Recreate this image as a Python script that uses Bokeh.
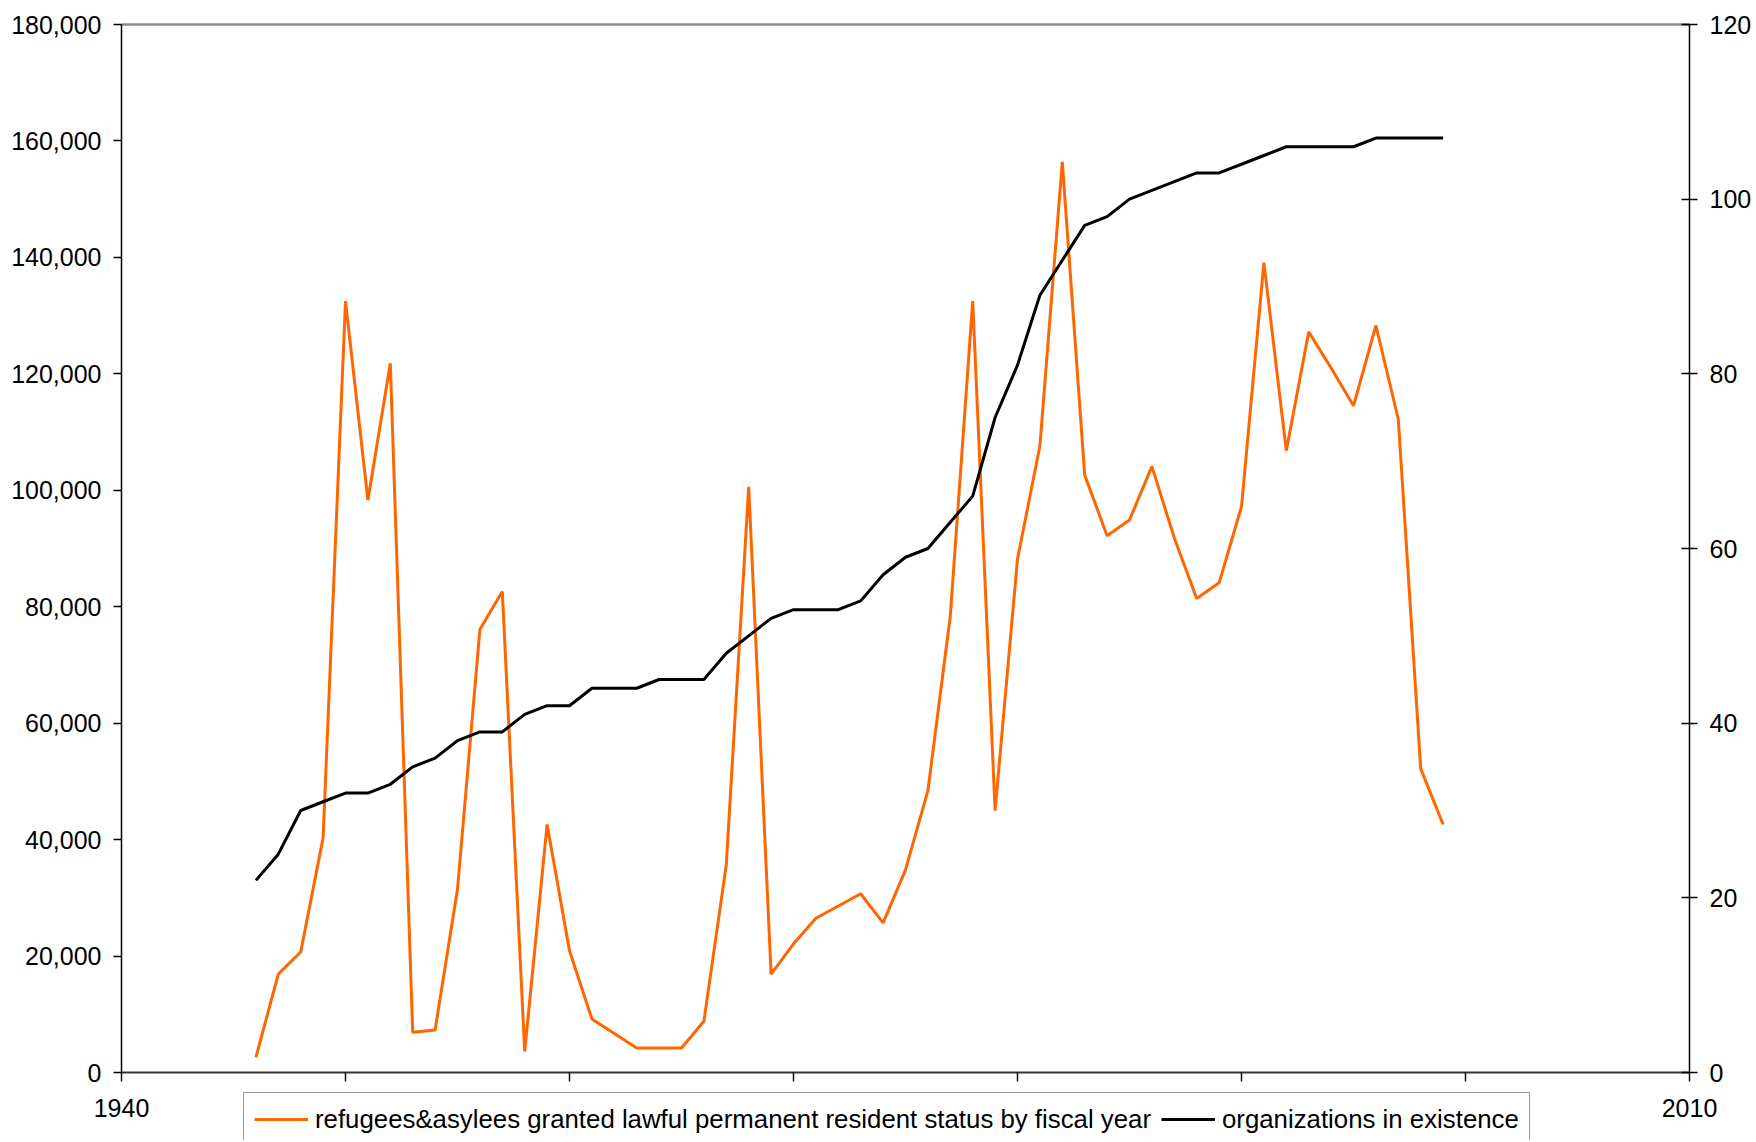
from bokeh.plotting import figure
from bokeh.models import (Range1d, LinearAxis, FixedTicker, NumeralTickFormatter,
                          Legend, LegendItem)
from bokeh.embed import file_html
from bokeh.resources import INLINE

years = list(range(1946, 2000))
refugees = [2600, 16900, 20700, 40300, 132500, 98300, 121800, 6900, 7300, 31500,
            76100, 82600, 3600, 42600, 20900, 9200, 6700, 4200, 4200, 4200,
            8800, 35700, 100600, 16900, 22100, 26500, 28600, 30700, 25700, 34800,
            48400, 78400, 132500, 45000, 88200, 107600, 156400, 102600, 92200, 94900,
            104100, 91800, 81400, 84100, 97200, 139100, 106800, 127200, 121000, 114500,
            128300, 112200, 52200, 42600]
organizations = [22, 25, 30, 31, 32, 32, 33, 35, 36, 38,
                 39, 39, 41, 42, 42, 44, 44, 44, 45, 45,
                 45, 48, 50, 52, 53, 53, 53, 54, 57, 59,
                 60, 63, 66, 75, 81, 89, 93, 97, 98, 100,
                 101, 102, 103, 103, 104, 105, 106, 106, 106, 106,
                 107, 107, 107, 107]
series_labels = ["refugees&asylees granted lawful permanent resident status by fiscal year",
                 "organizations in existence"]
x_ticks = [1940, 1950, 1960, 1970, 1980, 1990, 2000, 2010]
x_tick_labels = ["1940", "", "", "", "", "", "", "2010"]
left_ticks = [0, 20000, 40000, 60000, 80000, 100000, 120000, 140000, 160000, 180000]
right_ticks = [0, 20, 40, 60, 80, 100, 120]

FONT = "Liberation Sans"
TICK_SIZE = "25px"
LEG_SIZE = "25.8px"

# ---- layout (pixels). The frame covers the whole canvas; the axes are drawn
# at fixed data locations so that nothing is clipped.
W, H = 1754, 1140
PX_LEFT, PX_TOP = 121, 24          # top-left corner of the plotting box
PLOT_W, PLOT_H = 1568, 1048        # size of the plotting box
X0, X1 = 1940, 2010
LEFT_MAX, RIGHT_MAX = 180000, 120

def extend(lo, hi, px_lo, px_span, px_total):
    per_px = (hi - lo) / px_span
    return lo - px_lo * per_px, hi + (px_total - px_lo - px_span) * per_px

xr = extend(X0, X1, PX_LEFT, PLOT_W, W)
bottom_px = H - PX_TOP - PLOT_H
yr = extend(0, LEFT_MAX, bottom_px, PLOT_H, H)
yr2 = extend(0, RIGHT_MAX, bottom_px, PLOT_H, H)

p = figure(frame_width=W, frame_height=H,
           x_range=Range1d(*xr), y_range=Range1d(*yr),
           output_backend="svg", toolbar_location=None,
           min_border_left=0, min_border_right=0,
           min_border_top=0, min_border_bottom=0)
p.extra_y_ranges = {"orgs": Range1d(*yr2)}
p.xgrid.visible = False
p.ygrid.visible = False
p.outline_line_color = None
p.background_fill_color = "white"
p.border_fill_color = "white"

# bottom axis, drawn at the zero line
xa = p.xaxis[0]
xa.fixed_location = 0
xa.bounds = (X0, X1)
xa.ticker = FixedTicker(ticks=x_ticks)
xa.major_label_overrides = {t: lab for t, lab in zip(x_ticks, x_tick_labels)}
xa.minor_tick_line_color = None
xa.major_tick_in = 0
xa.major_tick_out = 9
xa.major_label_standoff = 17
xa.axis_line_color = "#333333"
xa.axis_line_width = 2
xa.major_tick_line_color = "#111111"
xa.major_tick_line_width = 1.5
xa.major_label_text_font = FONT
xa.major_label_text_font_size = TICK_SIZE
xa.major_label_text_color = "black"

# left axis
ya = p.yaxis[0]
ya.fixed_location = X0
ya.bounds = (0, LEFT_MAX)
ya.ticker = FixedTicker(ticks=left_ticks)
ya.formatter = NumeralTickFormatter(format="0,0")
ya.minor_tick_line_color = None
ya.major_tick_in = 0
ya.major_tick_out = 8
ya.major_label_standoff = 12
ya.axis_line_color = "black"
ya.axis_line_width = 1.5
ya.major_tick_line_color = "black"
ya.major_tick_line_width = 1.5
ya.major_label_text_font = FONT
ya.major_label_text_font_size = TICK_SIZE
ya.major_label_text_color = "black"

# right axis
ra = LinearAxis(y_range_name="orgs", ticker=FixedTicker(ticks=right_ticks),
                bounds=(0, RIGHT_MAX), fixed_location=X1)
ra.minor_tick_line_color = None
ra.major_tick_in = 8
ra.major_tick_out = 8
ra.major_label_standoff = 12
ra.axis_line_color = "black"
ra.axis_line_width = 1.5
ra.major_tick_line_color = "black"
ra.major_tick_line_width = 1.5
ra.major_label_text_font = FONT
ra.major_label_text_font_size = TICK_SIZE
ra.major_label_text_color = "black"
p.add_layout(ra, "right")

# top border (gray), as a bare axis line
ta = LinearAxis(fixed_location=LEFT_MAX, bounds=(X0, X1), ticker=FixedTicker(ticks=[]))
ta.axis_line_color = "#8c8c8c"
ta.axis_line_width = 2.5
ta.major_tick_line_color = None
ta.minor_tick_line_color = None
ta.major_label_text_font_size = "0px"
p.add_layout(ta, "above")

r1 = p.line(years, refugees, line_color="#FF6600", line_width=3)
r2 = p.line(years, organizations, line_color="black", line_width=3, y_range_name="orgs")

legend = Legend(items=[LegendItem(label=series_labels[0], renderers=[r1]),
                       LegendItem(label=series_labels[1], renderers=[r2])],
                orientation="horizontal", location=(243, -6),
                padding=10, spacing=10, glyph_width=54, glyph_height=32,
                label_height=32, label_standoff=7,
                label_text_font=FONT, label_text_font_size=LEG_SIZE,
                label_text_color="black",
                border_line_color="#333333", border_line_width=1.5,
                background_fill_color="white", background_fill_alpha=1.0)
p.add_layout(legend)

open("out.html", "w").write(file_html(p, INLINE))
